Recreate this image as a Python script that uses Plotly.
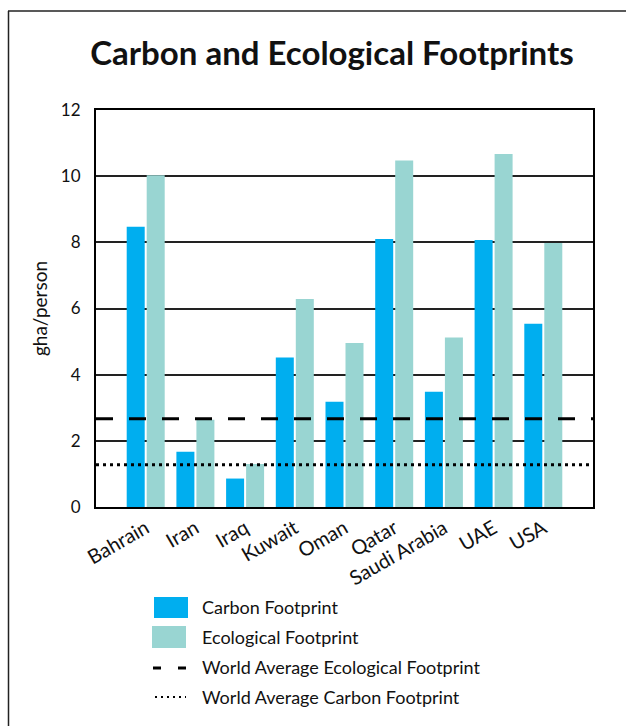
import plotly.graph_objects as go

countries = ["Bahrain", "Iran", "Iraq", "Kuwait", "Oman", "Qatar", "Saudi Arabia", "UAE", "USA"]
carbon = [8.47, 1.67, 0.86, 4.52, 3.18, 8.10, 3.48, 8.07, 5.54]
ecological = [10.03, 2.64, 1.30, 6.29, 4.96, 10.47, 5.12, 10.67, 7.98]
world_avg_ecological = 2.67
world_avg_carbon = 1.28
y_ticks = [0, 2, 4, 6, 8, 10, 12]
legend_labels = ["Carbon Footprint", "Ecological Footprint",
                 "World Average Ecological Footprint", "World Average Carbon Footprint"]

BLUE = "#00AEEF"
TEAL = "#99D5D2"
FONT = "Lato"

W, H = 626, 726
L, R, T, B = 96, 593, 110, 507

def px(x):
    return (x - L) / (R - L)

def py(y):
    return (B - y) / (B - T)

fig = go.Figure()
fig.add_trace(go.Bar(x=countries, y=carbon, name=legend_labels[0], marker=dict(color=BLUE, line=dict(width=0))))
fig.add_trace(go.Bar(x=countries, y=ecological, name=legend_labels[1], marker=dict(color=TEAL, line=dict(width=0))))

# world average lines
fig.add_shape(type="line", xref="x domain", yref="y", x0=0, x1=1, y0=world_avg_ecological, y1=world_avg_ecological,
              line=dict(color="black", width=3, dash="17px,16px"), layer="above")
fig.add_shape(type="line", xref="x domain", yref="y", x0=0, x1=1, y0=world_avg_carbon, y1=world_avg_carbon,
              line=dict(color="black", width=3, dash="3px,4px"), layer="above")

# frame (left and top edges)
fig.add_shape(type="line", xref="paper", yref="paper", x0=px(8.5), x1=px(8.5), y0=py(11), y1=py(726),
              line=dict(color="#222", width=1.5))
fig.add_shape(type="line", xref="paper", yref="paper", x0=px(8), x1=px(626), y0=py(11), y1=py(11),
              line=dict(color="#222", width=1.5))
# legend swatches
fig.add_shape(type="rect", xref="paper", yref="paper", x0=px(154), x1=px(188), y0=py(597), y1=py(618),
              fillcolor=BLUE, line=dict(width=0))
fig.add_shape(type="rect", xref="paper", yref="paper", x0=px(152), x1=px(186), y0=py(626), y1=py(648),
              fillcolor=TEAL, line=dict(width=0))
fig.add_shape(type="line", xref="paper", yref="paper", x0=px(153), x1=px(186), y0=py(668), y1=py(668),
              line=dict(color="black", width=3, dash="8px,17px"))
fig.add_shape(type="line", xref="paper", yref="paper", x0=px(155), x1=px(186), y0=py(697), y1=py(697),
              line=dict(color="black", width=2, dash="2px,4px"))

for i, lab in enumerate(legend_labels):
    fig.add_annotation(text=lab, xref="paper", yref="paper", x=px(200), y=py(607 + 30 * i),
                       xanchor="left", yanchor="middle", showarrow=False,
                       font=dict(family=FONT, size=18, color="#111"))

fig.update_layout(
    width=W, height=H,
    margin=dict(l=L, r=W - R, t=T, b=H - B),
    paper_bgcolor="white", plot_bgcolor="white",
    barmode="group", bargap=0.195, bargroupgap=0.1,
    showlegend=False,
    title=dict(text="<b>Carbon and Ecological Footprints</b>", x=(332 - L) / (R - L), xanchor="center",
               xref="paper", y=1 - 53 / H, yanchor="middle",
               font=dict(family=FONT, size=33, color="#111")),
)
fig.update_xaxes(range=[-1, 9], tickangle=-30, showline=True, linecolor="black", linewidth=2,
                 mirror=True, showgrid=False, ticks="",
                 tickfont=dict(family=FONT, size=20, color="#111"))
fig.update_yaxes(range=[0, 12], tickvals=y_ticks, showline=True, linecolor="black", linewidth=2,
                 mirror=True, showgrid=True, gridcolor="#222", gridwidth=1.5, zeroline=False,
                 ticks="", ticklabelstandoff=10,
                 tickfont=dict(family=FONT, size=17, color="#111"),
                 title=dict(text="gha/person", standoff=8, font=dict(family=FONT, size=19, color="#111")))

fig.write_html("out.html", config={"displayModeBar": False},
               post_script="document.body.style.margin='0';document.body.style.overflow='hidden';")
